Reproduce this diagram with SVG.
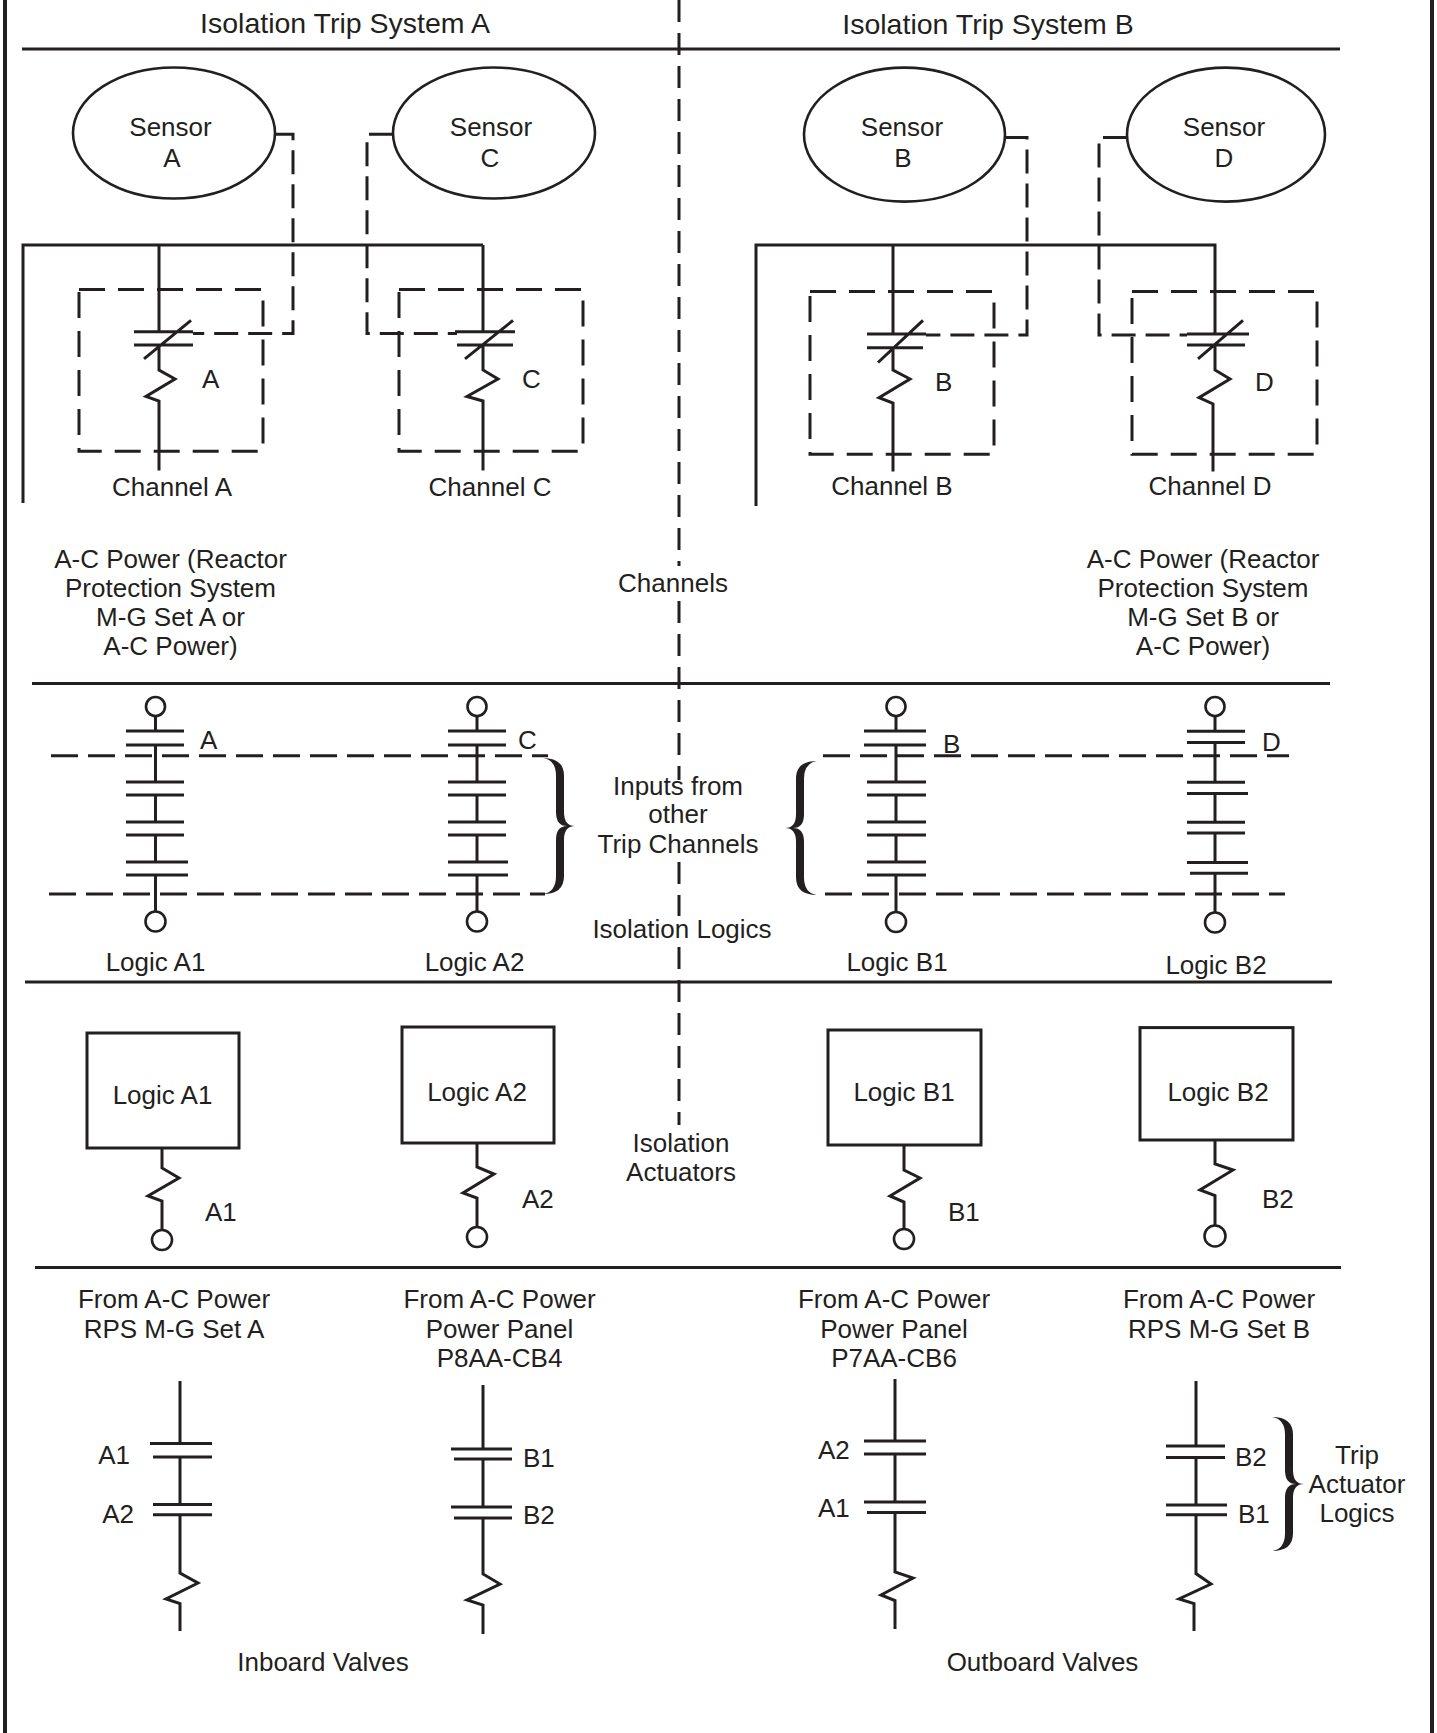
<svg xmlns="http://www.w3.org/2000/svg" width="1437" height="1733" viewBox="0 0 1437 1733">
<style>
.ln{stroke:#231f20;stroke-width:3;fill:none}
.bd{stroke:#231f20;stroke-width:4;fill:none}
.el{stroke:#231f20;stroke-width:2.6;fill:none}
.ds{stroke-dasharray:24 10}
.bx{stroke-dasharray:26 13}
.dl{stroke-dasharray:27 10}
.cd{stroke-dasharray:22 11}
.t{font-family:"Liberation Sans",Arial,Helvetica,sans-serif;font-size:26px;fill:#231f20}
.tt{font-size:28.5px}
.m{text-anchor:middle}
.e{text-anchor:end}
</style>
<defs>
<path id="brace" d="M0,0 Q21,0 21,18 L21,54 Q21,68 32,68 Q21,68 21,82 L21,118 Q21,136 0,136 Q13,134 13,118 L13,82 Q13,68 24,68 Q13,68 13,54 L13,18 Q13,2 0,0 Z" fill="#231f20"/>
</defs>
<rect width="1437" height="1733" fill="#fff"/>

<g id="frame">
<path class="bd" d="M5,0 V1733 M1432,0 V1733"/>
<path class="ln" d="M22,49 H1340 M32,683.5 H1330 M25,982 H1332 M35,1267.5 H1341"/>
<path class="ln cd" d="M679,0 V566 M679,601 V780 M679,862 V916 M679,947 V1125"/>
<text class="t tt m" x="345" y="32.5">Isolation Trip System A</text>
<text class="t tt m" x="988" y="34.4">Isolation Trip System B</text>
<text class="t m" x="673" y="592">Channels</text>
<text class="t m" x="678" y="795">Inputs from</text>
<text class="t m" x="678" y="823">other</text>
<text class="t m" x="678" y="852.6">Trip Channels</text>
<text class="t m" x="682" y="937.7">Isolation Logics</text>
<text class="t m" x="681" y="1152">Isolation</text>
<text class="t m" x="681" y="1181">Actuators</text>
<text class="t m" x="323" y="1671">Inboard Valves</text>
<text class="t m" x="1042.5" y="1671">Outboard Valves</text>
</g>

<g id="sensor-a">
<ellipse class="el" cx="174" cy="133" rx="101" ry="65.5"/>
<text class="t m" x="170.5" y="135.8">Sensor</text>
<text class="t m" x="172" y="167.2">A</text>
</g>
<g id="sensor-c">
<ellipse class="el" cx="494" cy="133" rx="101" ry="65.5"/>
<text class="t m" x="491" y="135.8">Sensor</text>
<text class="t m" x="490" y="167.2">C</text>
</g>
<g id="sensor-b">
<ellipse class="el" cx="904.5" cy="134.6" rx="100.5" ry="67"/>
<text class="t m" x="902" y="135.8">Sensor</text>
<text class="t m" x="903" y="167.2">B</text>
</g>
<g id="sensor-d">
<ellipse class="el" cx="1226" cy="134.6" rx="99" ry="67"/>
<text class="t m" x="1224" y="135.8">Sensor</text>
<text class="t m" x="1224" y="167.2">D</text>
</g>

<g id="connectors">
<path class="ln" d="M23,503 V245 H483 M159,245 V331.8"/>
<path class="ln" d="M756,506 V245 H1215 V334 M893,245 V334"/>
<path class="ln ds" d="M275,134.3 H293 V333.5 H193"/>
<path class="ln ds" d="M393,134.3 H367 V333.5 H457"/>
<path class="ln ds" d="M1005,137.6 H1027 V335 H926"/>
<path class="ln ds" d="M1127,137.6 H1099 V335 H1187"/>
<path class="ln dl" d="M51,755.7 H548 M823,755.7 H1289 M49,894 H545 M825,894 H1285"/>
<use href="#brace" transform="translate(543,758)"/>
<use href="#brace" transform="translate(817,761) scale(-1,0.985)"/>
<use href="#brace" transform="translate(1272,1417) scale(1,0.985)"/>
</g>

<g id="channel-a">
<rect class="ln bx" x="79" y="289.6" width="184" height="161.7"/>
<path class="ln" d="M134,331.8 H193 M134,345 H193 M144,358.8 L191,320.4 M159,345 V370 L175,379 L146,396.5 L159,401 V470.5"/>
<text class="t" x="202" y="388.4">A</text>
<text class="t m" x="172" y="495.7">Channel A</text>
</g>
<g id="channel-c">
<rect class="ln bx" x="399" y="289.6" width="184" height="161.7"/>
<path class="ln" d="M483,245 V331.8 M455,331.8 H515 M457,345 H513 M465,358.8 L513,320.4 M483,345 V370 L498,379 L467,396.5 L483,401 V470.5"/>
<text class="t" x="522" y="388.4">C</text>
<text class="t m" x="490" y="495.7">Channel C</text>
</g>
<g id="channel-b">
<rect class="ln bx" x="810" y="291.5" width="184" height="162.7"/>
<path class="ln" d="M867,334 H926 M867,347.7 H923 M878,362.5 L923,320.3 M893,347.7 V370 L910,379 L879,397.6 L893,403 V471.6"/>
<text class="t" x="935" y="391.4">B</text>
<text class="t m" x="892" y="494.6">Channel B</text>
</g>
<g id="channel-d">
<rect class="ln bx" x="1132" y="291.5" width="185" height="162.7"/>
<path class="ln" d="M1187,334 H1249 M1187,345 H1245 M1198,358.8 L1243,320.3 M1215,345 V370 L1230,379 L1199,397.6 L1213,404 V471.6"/>
<text class="t" x="1255" y="391.4">D</text>
<text class="t m" x="1210" y="494.6">Channel D</text>
</g>

<g id="power-a">
<text class="t m" x="170.5" y="568">A-C Power (Reactor</text>
<text class="t m" x="170.5" y="597">Protection System</text>
<text class="t m" x="170.5" y="626">M-G Set A or</text>
<text class="t m" x="170.5" y="655">A-C Power)</text>
</g>
<g id="power-b">
<text class="t m" x="1203" y="568">A-C Power (Reactor</text>
<text class="t m" x="1203" y="597">Protection System</text>
<text class="t m" x="1203" y="626">M-G Set B or</text>
<text class="t m" x="1203" y="655">A-C Power)</text>
</g>

<g id="logic-a1">
<circle class="el" cx="155.5" cy="706.5" r="9.5"/>
<circle class="el" cx="155.5" cy="921.5" r="10"/>
<path class="ln" d="M155.5,716 V731 M155.5,745 V782 M155.5,795 V822 M155.5,835 V862 M155.5,875 V911.5 M126,731 H184 M126,745 H184 M126,782 H184 M126,795 H184 M126,822 H184 M126,835 H184 M126,862 H188 M126,875 H188"/>
<text class="t" x="200" y="749">A</text>
<text class="t m" x="155.5" y="971">Logic A1</text>
</g>
<g id="logic-a2">
<circle class="el" cx="477" cy="706.5" r="9.5"/>
<circle class="el" cx="477" cy="921.5" r="10"/>
<path class="ln" d="M477,716 V731 M477,745 V782 M477,795 V822 M477,835 V862 M477,875 V911.5 M448,731 H506 M448,745 H506 M448,782 H506 M448,795 H506 M448,822 H506 M448,835 H506 M448,862 H508 M448,875 H508"/>
<text class="t" x="518" y="749">C</text>
<text class="t m" x="474.5" y="971">Logic A2</text>
</g>
<g id="logic-b1">
<circle class="el" cx="896" cy="706.5" r="9.5"/>
<circle class="el" cx="896" cy="922" r="10"/>
<path class="ln" d="M896,716 V731 M896,745 V782 M896,795 V822 M896,835 V862 M896,875 V912 M864,731 H926 M864,745 H926 M867,782 H926 M867,795 H926 M867,822 H926 M867,835 H926 M867,862 H926 M867,875 H926"/>
<text class="t" x="943" y="752.7">B</text>
<text class="t m" x="897" y="971">Logic B1</text>
</g>
<g id="logic-b2">
<circle class="el" cx="1215" cy="706.5" r="9.5"/>
<circle class="el" cx="1215" cy="922.5" r="10"/>
<path class="ln" d="M1215,716 V731.3 M1215,742.4 V782.3 M1215,793.4 V822.3 M1215,833 V862.6 M1215,873.3 V912.5 M1187,731.3 H1245 M1187,742.4 H1245 M1187,782.3 H1245 M1187,793.4 H1248 M1187,822.3 H1245 M1187,833 H1245 M1187,862.6 H1248 M1190,873.3 H1248"/>
<text class="t" x="1262" y="751">D</text>
<text class="t m" x="1216" y="973.5">Logic B2</text>
</g>

<g id="actuator-a1">
<rect class="ln" x="87" y="1033" width="152" height="115"/>
<text class="t m" x="162.5" y="1104">Logic A1</text>
<path class="ln" d="M162,1148 V1168 L179,1178 L148,1196 L162,1201 V1230"/>
<circle class="el" cx="162" cy="1240" r="10"/>
<text class="t" x="205" y="1221.4">A1</text>
</g>
<g id="actuator-a2">
<rect class="ln" x="402" y="1027" width="152" height="116"/>
<text class="t m" x="477" y="1100.5">Logic A2</text>
<path class="ln" d="M477,1143 V1167 L494,1174 L463,1193 L477,1198 V1227"/>
<circle class="el" cx="477" cy="1237" r="10"/>
<text class="t" x="522" y="1207.7">A2</text>
</g>
<g id="actuator-b1">
<rect class="ln" x="828" y="1030" width="153" height="115"/>
<text class="t m" x="904" y="1100.5">Logic B1</text>
<path class="ln" d="M904,1145 V1170 L920,1178 L890,1196 L904,1202 V1229"/>
<circle class="el" cx="904" cy="1239" r="10"/>
<text class="t" x="948" y="1220.6">B1</text>
</g>
<g id="actuator-b2">
<rect class="ln" x="1140" y="1027.6" width="153" height="112.4"/>
<text class="t m" x="1218" y="1100.5">Logic B2</text>
<path class="ln" d="M1215,1140 V1164 L1233,1170 L1200,1190 L1215,1195.5 V1225.5"/>
<circle class="el" cx="1215" cy="1236" r="10.5"/>
<text class="t" x="1262" y="1207.7">B2</text>
</g>

<g id="trip-inboard-1">
<text class="t m" x="174" y="1308.4">From A-C Power</text>
<text class="t m" x="174" y="1338">RPS M-G Set A</text>
<path class="ln" d="M180,1381 V1443.4 M150,1443.4 H212 M153,1457 H212 M180,1457 V1504.4 M153,1504.4 H212 M153,1514.8 H212 M180,1514.8 V1573 L198,1583 L166,1599 L180,1603.6 V1631"/>
<text class="t e" x="130" y="1463.7">A1</text>
<text class="t e" x="134" y="1523">A2</text>
</g>
<g id="trip-inboard-2">
<text class="t m" x="499.5" y="1308.4">From A-C Power</text>
<text class="t m" x="499.5" y="1338">Power Panel</text>
<text class="t m" x="499.5" y="1367">P8AA-CB4</text>
<path class="ln" d="M483,1385 V1449 M451,1449 H512 M454,1459 H512 M483,1459 V1507 M451,1507 H512 M454,1518 H512 M483,1518 V1574 L500,1584 L467,1600 L483,1605 V1634"/>
<text class="t" x="523" y="1466.7">B1</text>
<text class="t" x="523" y="1524">B2</text>
</g>
<g id="trip-outboard-1">
<text class="t m" x="894" y="1308.4">From A-C Power</text>
<text class="t m" x="894" y="1338">Power Panel</text>
<text class="t m" x="894" y="1367">P7AA-CB6</text>
<path class="ln" d="M895,1379 V1441 M864,1441 H926 M864,1454 H926 M895,1454 V1502 M864,1502 H926 M867,1512.6 H926 M895,1512.6 V1572 L913,1578 L881,1595 L895,1600.6 V1629"/>
<text class="t" x="818" y="1458.6">A2</text>
<text class="t" x="818" y="1517">A1</text>
</g>
<g id="trip-outboard-2">
<text class="t m" x="1219" y="1308.4">From A-C Power</text>
<text class="t m" x="1219" y="1338">RPS M-G Set B</text>
<path class="ln" d="M1196,1381 V1446 M1166,1446 H1225 M1166,1457.4 H1225 M1196,1457.4 V1505 M1166,1505 H1227 M1166,1514.8 H1227 M1196,1514.8 V1573.6 L1211,1584 L1179,1599 L1194,1603.6 V1631"/>
<text class="t" x="1235" y="1465.6">B2</text>
<text class="t" x="1238" y="1523">B1</text>
<text class="t m" x="1357" y="1463.7">Trip</text>
<text class="t m" x="1357" y="1492.6">Actuator</text>
<text class="t m" x="1357" y="1522">Logics</text>
</g>
</svg>
